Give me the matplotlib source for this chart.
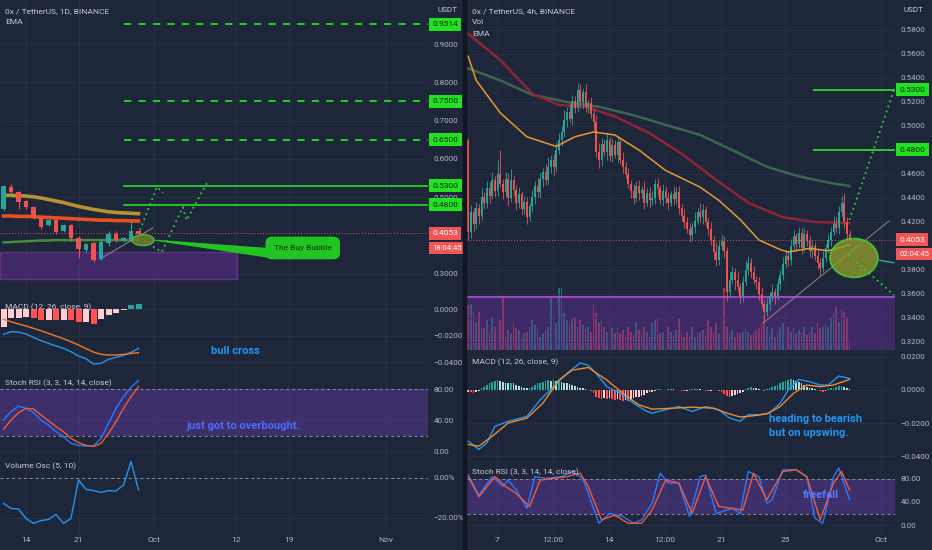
import numpy as np
import matplotlib
matplotlib.use("Agg")
import matplotlib.pyplot as plt
from matplotlib.patches import Ellipse, Rectangle, Polygon

plt.rcParams['font.family'] = ['Roboto', 'DejaVu Sans']

W, H = 932, 550
BG = '#1e2639'
GRID = '#283149'
TXT = '#b4b8c3'
UP = '#26a69a'
DN = '#ef5350'
LIME = '#22e022'
PURPLE = '#6a3fb5'

# ---------------- left chart: 0x/USDT 1D ----------------
l_days = list(range(11, 30))          # day of September
l_open = [0.469, 0.527, 0.513, 0.490, 0.474, 0.445, 0.427, 0.440, 0.412, 0.427,
          0.393, 0.362, 0.380, 0.339, 0.380, 0.404, 0.386, 0.391, 0.412]
l_close = [0.529, 0.513, 0.487, 0.474, 0.448, 0.422, 0.440, 0.409, 0.427, 0.393,
           0.365, 0.378, 0.336, 0.383, 0.404, 0.388, 0.393, 0.412, 0.405]
l_high = [0.532, 0.534, 0.515, 0.492, 0.476, 0.447, 0.442, 0.442, 0.430, 0.429,
          0.398, 0.381, 0.382, 0.390, 0.412, 0.412, 0.397, 0.435, 0.414]
l_low = [0.465, 0.510, 0.469, 0.470, 0.443, 0.418, 0.425, 0.404, 0.410, 0.385,
         0.341, 0.358, 0.331, 0.336, 0.372, 0.382, 0.384, 0.389, 0.403]
l_ema_yel = [0.505, 0.505, 0.504, 0.503, 0.501, 0.498, 0.494, 0.490, 0.486, 0.481,
             0.476, 0.472, 0.468, 0.465, 0.462, 0.460, 0.459, 0.458, 0.457]
l_ema_org = [0.451, 0.451, 0.450, 0.450, 0.449, 0.448, 0.447, 0.446, 0.445, 0.444,
             0.443, 0.442, 0.441, 0.440, 0.440, 0.439, 0.439, 0.438, 0.438]
l_ema_grn = [0.382, 0.383, 0.384, 0.385, 0.386, 0.387, 0.387, 0.388, 0.388, 0.388,
             0.388, 0.388, 0.388, 0.388, 0.388, 0.388, 0.388, 0.388, 0.389]
l_hist = [-0.0133, -0.0070, -0.0070, -0.0058, -0.0070, -0.0083, -0.0082, -0.0086, -0.0080, -0.0085,
          -0.0101, -0.0099, -0.0113, -0.0078, -0.0045, -0.0028, -0.0008, 0.0030, 0.0038]
l_macd = [-0.0191, -0.0171, -0.0174, -0.0189, -0.0214, -0.0239, -0.0259, -0.0279, -0.0297, -0.0322,
          -0.0355, -0.0375, -0.0415, -0.0410, -0.0380, -0.0365, -0.0350, -0.0327, -0.0297]
l_signal = [-0.0078, -0.0096, -0.0113, -0.0128, -0.0146, -0.0164, -0.0184, -0.0204, -0.0224, -0.0247,
            -0.0272, -0.0299, -0.0325, -0.0342, -0.0347, -0.0347, -0.0342, -0.0335, -0.0330]
l_k = [40.0, 50.8, 58.1, 55.1, 49.5, 40.0, 33.5, 24.9, 18.5, 9.9,
       7.3, 6.5, 6.5, 16.3, 35.7, 55.1, 70.1, 82.2, 90.8]
l_d = [28.0, 40.0, 49.5, 55.1, 54.2, 46.5, 39.1, 31.4, 24.9, 16.3,
       10.8, 7.3, 6.0, 9.9, 22.8, 37.8, 55.1, 70.1, 83.0]
l_vosc = [-12.7, -15.2, -15.5, -20.2, -22.7, -21.3, -20.7, -18.2, -22.7, -20.2,
          -1.0, -5.7, -6.3, -7.2, -6.3, -6.5, -3.5, 8.2, -6.0]

l_dash_targets = [0.9514, 0.75, 0.65]
l_targets = [0.53, 0.48]
last_price = 0.4053
l_zone = (0.286, 0.357)
# projection drawings (day, price)
l_path_a_x = [29.2, 31.47, 32.27]
l_path_a_y = [0.414, 0.527, 0.511]
l_path_b_x = [29.7, 32.1, 34.9, 35.4, 38.1]
l_path_b_y = [0.386, 0.357, 0.474, 0.440, 0.537]
l_trend_x = [23.87, 30.93]
l_trend_y = [0.339, 0.420]

l_xticks = [14, 21, 31, 42, 49, 62]
l_xlabels = ['14', '21', 'Oct', '12', '19', 'Nov']

# ---------------- right chart: 0x/USDT 4h ----------------
R_T0 = 5.2             # day of first 4h candle
R_FIRST_OPEN = 0.488
r_close = [0.412, 0.428, 0.418, 0.432, 0.425, 0.441, 0.436, 0.448, 0.442, 0.455,
           0.446, 0.460, 0.452, 0.445, 0.456, 0.440, 0.455, 0.447, 0.436, 0.443,
           0.431, 0.437, 0.424, 0.433, 0.441, 0.450, 0.445, 0.456, 0.462, 0.455,
           0.466, 0.472, 0.466, 0.480, 0.488, 0.495, 0.505, 0.512, 0.506, 0.521,
           0.515, 0.530, 0.520, 0.528, 0.516, 0.519, 0.510, 0.503, 0.478, 0.472,
           0.485, 0.478, 0.488, 0.475, 0.484, 0.476, 0.487, 0.472, 0.466, 0.460,
           0.452, 0.446, 0.440, 0.450, 0.444, 0.447, 0.436, 0.444, 0.438, 0.440,
           0.452, 0.448, 0.438, 0.446, 0.440, 0.436, 0.443, 0.439, 0.445, 0.432,
           0.425, 0.420, 0.414, 0.409, 0.416, 0.421, 0.428, 0.424, 0.430, 0.420,
           0.414, 0.405, 0.395, 0.388, 0.400, 0.404, 0.396, 0.362, 0.372, 0.378,
           0.372, 0.366, 0.358, 0.370, 0.380, 0.386, 0.378, 0.372, 0.370, 0.360,
           0.352, 0.345, 0.352, 0.358, 0.362, 0.358, 0.368, 0.376, 0.385, 0.392,
           0.388, 0.400, 0.408, 0.402, 0.411, 0.398, 0.410, 0.404, 0.396, 0.400,
           0.392, 0.386, 0.382, 0.390, 0.398, 0.405, 0.412, 0.418, 0.415, 0.428,
           0.436, 0.420, 0.410, 0.405]
# wick lengths in thousandths
r_wick_up = [2, 6, 4, 5, 3, 8, 4, 6, 5, 7, 3, 12, 20, 4, 6, 5, 9, 3, 4, 6,
             3, 5, 4, 3, 6, 4, 7, 5, 3, 6, 8, 4, 5, 7, 6, 5, 8, 4, 6, 5,
             4, 6, 5, 4, 7, 3, 5, 4, 6, 8, 5, 4, 7, 3, 6, 4, 5, 3, 6, 4,
             5, 3, 6, 4, 5, 3, 7, 4, 5, 6, 4, 5, 3, 6, 4, 5, 3, 7, 4, 5,
             3, 6, 4, 5, 3, 7, 4, 8, 5, 3, 4, 6, 3, 8, 4, 5, 4, 3, 6, 5,
             4, 7, 3, 5, 8, 6, 4, 5, 3, 4, 6, 3, 5, 4, 6, 3, 5, 4, 6, 5,
             4, 6, 5, 3, 5, 4, 6, 3, 5, 4, 3, 5, 4, 6, 4, 5, 4, 7, 6, 5,
             6, 8, 4, 3]
r_wick_dn = [7, 5, 6, 4, 7, 3, 5, 4, 6, 3, 5, 4, 3, 6, 4, 7, 3, 5, 6, 4,
             5, 4, 6, 3, 5, 6, 4, 5, 7, 4, 3, 5, 8, 4, 3, 5, 4, 6, 3, 5,
             4, 3, 5, 6, 4, 5, 3, 6, 4, 7, 5, 3, 6, 4, 5, 3, 6, 4, 5, 3,
             4, 6, 5, 3, 6, 4, 5, 3, 6, 4, 5, 6, 3, 5, 4, 6, 3, 5, 4, 5,
             4, 5, 3, 6, 4, 5, 3, 4, 6, 3, 5, 4, 6, 5, 4, 3, 6, 8, 5, 4,
             9, 4, 6, 5, 3, 4, 5, 4, 6, 5, 4, 7, 3, 5, 4, 6, 3, 5, 4, 3,
             5, 4, 3, 6, 4, 5, 3, 4, 5, 6, 4, 5, 7, 4, 3, 4, 5, 3, 4, 5,
             3, 5, 4, 3]
r_volume = [45, 46, 38, 27, 38, 23, 22, 30, 18, 33,
            23, 37, 30, 52, 13, 20, 17, 27, 22, 20,
            12, 17, 18, 23, 30, 25, 23, 13, 17, 20,
            23, 52, 23, 27, 62, 62, 37, 30, 27, 32,
            33, 23, 30, 25, 22, 23, 18, 45, 37, 27,
            30, 23, 18, 27, 22, 17, 23, 17, 20, 13,
            23, 18, 15, 28, 20, 17, 23, 18, 13, 27,
            30, 32, 17, 18, 13, 23, 18, 15, 20, 32,
            17, 13, 18, 15, 23, 13, 17, 18, 20, 15,
            30, 23, 18, 27, 17, 50, 62, 23, 17, 20,
            13, 18, 17, 18, 23, 18, 15, 17, 20, 22,
            27, 33, 23, 17, 22, 13, 18, 23, 27, 32,
            23, 18, 23, 17, 20, 17, 23, 15, 18, 23,
            17, 27, 22, 23, 25, 23, 33, 37, 43, 28,
            40, 38, 33, 10]
r_ema_org_idx = [0, 3, 12, 22, 33, 40, 47, 55, 64, 74, 87, 94, 102, 109, 117, 120, 128, 135, 143]
r_ema_org = [0.558, 0.538, 0.511, 0.491, 0.483, 0.491, 0.495, 0.4925, 0.480, 0.463,
             0.449, 0.438, 0.422, 0.405, 0.397, 0.395, 0.398, 0.396, 0.401]
r_ema_red_idx = [0, 12, 24, 34, 44, 55, 68, 80, 93, 105, 118, 130, 143]
r_ema_red = [0.577, 0.555, 0.527, 0.5175, 0.516, 0.508, 0.494, 0.477, 0.455, 0.436, 0.424, 0.420, 0.419]
r_ema_grn_idx = [0, 12, 24, 37, 49, 62, 74, 87, 99, 112, 124, 137, 143]
r_ema_grn = [0.548, 0.538, 0.526, 0.520, 0.516, 0.509, 0.501, 0.4925, 0.480, 0.466, 0.458, 0.452, 0.450]

r_hist = [-0.001, -0.0015, -0.002, -0.0015, -0.0005,
          0.001, 0.002, 0.003, 0.004, 0.005, 0.0055, 0.006, 0.0055,
          0.005, 0.0045, 0.004, 0.0045, 0.004, 0.003, 0.0025, 0.002, 0.0015, 0.001,
          0.0015, 0.002, 0.003, 0.004, 0.0045, 0.005, 0.0055, 0.006, 0.0055, 0.006, 0.0055,
          0.0055, 0.005, 0.0045, 0.004, 0.0035, 0.003, 0.0025, 0.002, 0.0015, 0.001, 0.0005, 0.0002, -0.0005,
          -0.002, -0.004, -0.005, -0.0055, -0.005, -0.0055, -0.005, -0.0055, -0.006, -0.0055, -0.006, -0.0065,
          -0.006, -0.0065, -0.006, -0.005, -0.0045, -0.004, -0.0035, -0.003, -0.002, -0.0015, -0.001, -0.0005,
          0.0003, 0.0005, 0.0001, -0.0003, 0.0004, 0.0008, 0.0005, 0.0002, -0.0003, -0.0006, -0.0008, -0.0005,
          0.0003, 0.0006, 0.0008, 0.0005, 0.0003, -0.0002, -0.0006, -0.0008, -0.0005, -0.0003, 0.0002, -0.0004,
          -0.001, -0.0025, -0.0035, -0.004, -0.0035, -0.003, -0.0025, -0.002, -0.001, 0.0005,
          0.0015, 0.002, 0.0015, 0.001, 0.0005, 0.0001, -0.0005, 0.0005,
          0.001, 0.002, 0.0025, 0.003, 0.004, 0.005, 0.0055, 0.006, 0.0065, 0.006, 0.0055, 0.005, 0.004, 0.003, 0.002,
          0.0015, 0.001, 0.0005, 0.0001, -0.0005, -0.001, -0.0005, 0.0005,
          0.001, 0.0015, 0.002, 0.0025, 0.0025, 0.002, 0.0012, 0.0006]
r_macd_idx = [0, 4, 7, 10, 15, 22, 27, 32, 37, 42, 45, 48, 52, 57, 62, 67, 69, 74, 79, 84,
              89, 94, 98, 102, 105, 109, 113, 117, 120, 124, 128, 132, 135, 139, 143]
r_macd = [-0.031, -0.036, -0.032, -0.022, -0.019, -0.016, -0.006, 0.002, 0.010, 0.0164,
          0.015, 0.010, 0.002, -0.002, -0.008, -0.013, -0.014, -0.012, -0.010, -0.013,
          -0.010, -0.012, -0.017, -0.019, -0.015, -0.015, -0.014, -0.008, 0.000, 0.0064,
          0.005, 0.003, 0.003, 0.0084, 0.007]
r_sig_idx = [0, 4, 9, 15, 22, 28, 34, 39, 45, 52, 58, 64, 69, 77, 84, 92, 97, 102, 107, 112,
             117, 122, 127, 132, 137, 143]
r_sig = [-0.033, -0.034, -0.028, -0.020, -0.017, -0.008, 0.006, 0.012, 0.0136, 0.006,
         -0.002, -0.009, -0.0116, -0.011, -0.0104, -0.011, -0.014, -0.0164, -0.0156, -0.0144,
         -0.010, -0.002, 0.003, 0.002, 0.003, 0.0064]
r_k_idx = [0, 4, 9, 13, 15, 18, 22, 25, 29, 35, 39, 43, 49, 53, 58, 62, 65, 69, 72, 75,
           79, 83, 87, 89, 93, 97, 99, 102, 105, 109, 112, 114, 118, 123, 127, 130, 133, 137, 139, 143]
r_k = [87, 52, 84, 67, 78, 61, 29, 84, 81, 84, 93, 81, 3, 20, 15, 3, 9, 38, 90, 73,
       73, 15, 84, 87, 20, 26, 29, 20, 93, 84, 38, 44, 96, 96, 84, 12, 3, 84, 99, 44]
r_d_idx = [0, 4, 10, 14, 18, 23, 27, 32, 37, 42, 45, 50, 55, 60, 65, 69, 74, 79, 84, 89,
           94, 99, 103, 107, 112, 118, 123, 127, 132, 137, 140, 143]
r_d = [84, 49, 84, 67, 55, 32, 78, 81, 84, 90, 67, 9, 17, 3, 3, 26, 78, 73, 20, 84,
       32, 29, 26, 90, 44, 93, 96, 84, 9, 73, 93, 61]

r_targets = [0.53, 0.48]
r_zone_top = 0.3575
r_up_x = [29.03, 31.81]
r_up_y = [0.4217, 0.53]
r_dn_x = [28.97, 31.81]
r_dn_y = [0.3925, 0.359]
r_trend_x = [23.63, 31.5]
r_trend_y = [0.3358, 0.4208]

r_xticks = [7, 10.5, 14, 17.5, 21, 25, 31]
r_xlabels = ['7', '12:00', '14', '12:00', '21', '25', 'Oct']

# ---------------- figure ----------------
fig = plt.figure(figsize=(W / 100, H / 100), dpi=100, facecolor=BG)


def pane(x0, y0, x1, y1, xlim, ylim, grid=True):
    ax = fig.add_axes([x0 / W, 1 - y1 / H, (x1 - x0) / W, (y1 - y0) / H])
    ax.set_facecolor('none')
    ax.set_xlim(*xlim)
    ax.set_ylim(*ylim)
    for s in ax.spines.values():
        s.set_visible(False)
    ax.yaxis.tick_right()
    ax.tick_params(axis='both', colors=TXT, labelsize=5.8, length=0, pad=4)
    if grid:
        ax.grid(True, color=GRID, lw=0.6)
    ax.set_axisbelow(True)
    return ax


def ftext(x, y, s, **kw):
    kw.setdefault('va', 'center')
    kw.setdefault('color', '#c8ccd6')
    kw.setdefault('fontsize', 6)
    fig.text(x / W, 1 - y / H, s, **kw)


def yticks(ax, vals, fmt):
    ax.set_yticks(vals)
    ax.set_yticklabels([fmt(v) for v in vals])


def xticks(ax, vals, labels, show):
    ax.set_xticks(vals)
    if show:
        ax.set_xticklabels(labels)
        ax.tick_params(axis='x', pad=3, labelsize=6)
    else:
        ax.tick_params(axis='x', labelbottom=False)


def tag(ax, y, s, fc, tc, dy=0, size=6):
    ax.annotate(s, xy=(1, y), xycoords=('axes fraction', 'data'), xytext=(3, dy),
                textcoords='offset points', ha='left', va='center', fontsize=size,
                color=tc, annotation_clip=False, zorder=20,
                bbox=dict(boxstyle='square,pad=0.42', fc=fc, ec='none'))


def candles(ax, x, o, c, h, l, width, lw):
    o, c = np.asarray(o), np.asarray(c)
    col = [UP if cc >= oo else DN for oo, cc in zip(o, c)]
    ax.vlines(x, l, h, colors=col, lw=lw, zorder=3)
    body = np.where(np.abs(c - o) < 0.0008, 0.0008, c - o)
    ax.bar(x, body, bottom=o, width=width, color=col, zorder=4, lw=0)


def hist_colors(vals):
    out = []
    for i, v in enumerate(vals):
        p = vals[i - 1] if i else v
        if v >= 0:
            out.append('#26a69a' if v >= p else '#b2dfdb')
        else:
            out.append('#ff5252' if v < p else '#ffcdd2')
    return out


def pct(v):
    return f'{v:.2f}%'.replace('-', '\u2212')


def dec4(v):
    return f'{v:.4f}'.replace('-', '\u2212')


# ===== left chart =====
LX = (10.53, 67.6)
lp = pane(0, 0, 428, 298, LX, (0.2368, 1.015))
yticks(lp, [0.3, 0.5, 0.6, 0.7, 0.8, 0.9], dec4)
xticks(lp, l_xticks, l_xlabels, False)
lp.add_patch(Rectangle((LX[0], l_zone[0]), 42.13 - LX[0], l_zone[1] - l_zone[0],
                       fc='#6a2ea0', alpha=0.45, ec='#a040c8', lw=1, zorder=1))
lp.plot(l_days, l_ema_yel, color='#c8a030', lw=2.6, alpha=0.9, zorder=2)
lp.plot(l_days, l_ema_org, color='#f4511e', lw=2.6, alpha=0.95, zorder=2)
lp.plot(l_days, l_ema_grn, color='#4a8a3c', lw=1.8, zorder=2)
candles(lp, l_days, l_open, l_close, l_high, l_low, 0.66, 0.8)
lp.axhline(last_price, color='#e05561', lw=0.7, ls=(0, (1, 2)), zorder=2)
for t in l_dash_targets:
    lp.plot([27.07, LX[1]], [t, t], color=LIME, lw=1.3, ls=(0, (4, 4)), zorder=3)
    tag(lp, t, f'{t:.4f}', LIME, '#0b2a0b')
for t in l_targets:
    lp.plot([27.07, LX[1]], [t, t], color=LIME, lw=1.2, zorder=3)
    tag(lp, t, f'{t:.4f}', LIME, '#0b2a0b')
lp.plot(l_trend_x, l_trend_y, color='#9a9aa0', lw=0.6, zorder=3)
lp.plot(l_path_a_x, l_path_a_y, color='#2ecc40', lw=1.3, ls=(0, (1, 2)), zorder=5)
lp.plot(l_path_b_x, l_path_b_y, color='#2ecc40', lw=1.3, ls=(0, (1, 2)), zorder=5)
lp.add_patch(Polygon([(31.0, 0.3895), (31.0, 0.3868), (46.6, 0.341), (46.6, 0.367)],
                     closed=True, fc='#21c421', ec='none', zorder=5))
lp.add_patch(Ellipse((29.6, 0.388), 2.93, 0.0287, fc='#6f7f2c', ec='#5fbf3f',
                     lw=1, alpha=0.85, zorder=6))
lp.text(50.9, 0.3674, 'The Buy Bubble', fontsize=6, color='#0d3a0d', ha='center',
        va='center', zorder=7,
        bbox=dict(boxstyle='round,pad=1.0,rounding_size=0.8', fc='#21c421', ec='none'))
tag(lp, last_price, '0.4053', '#f05656', 'white')
tag(lp, last_price, '18:04:45', '#f05656', 'white', dy=-10.5, size=5.6)

lm = pane(0, 298, 428, 377, LX, (-0.0513, 0.0083))
yticks(lm, [0.0, -0.02, -0.04], dec4)
xticks(lm, l_xticks, l_xlabels, False)
lm.bar(l_days, l_hist, width=0.8, color=hist_colors(l_hist), zorder=3, lw=0)
lm.plot(l_days, l_macd, color='#2196f3', lw=1.0, zorder=4)
lm.plot(l_days, l_signal, color='#f07a2a', lw=1.0, zorder=4)

ls_ = pane(0, 377, 428, 459, LX, (-10.3, 95.5))
yticks(ls_, [0, 40, 80], lambda v: f'{v:.2f}')
xticks(ls_, l_xticks, l_xlabels, False)
ls_.axhspan(20, 80, color=PURPLE, alpha=0.4, lw=0, zorder=1)
for lvl in (20, 80):
    ls_.axhline(lvl, color='#8a8fa3', lw=0.7, ls=(0, (3, 3)), zorder=2)
ls_.plot(l_days, l_k, color='#2979ff', lw=1.0, zorder=4)
ls_.plot(l_days, l_d, color='#f05a3a', lw=1.0, zorder=4)

lv = pane(0, 459, 428, 533, LX, (-27.5, 9.5))
yticks(lv, [0, -20], pct)
xticks(lv, l_xticks, l_xlabels, True)
lv.axhline(0, color='#8a8fa3', lw=0.7, ls=(0, (3, 3)), zorder=2)
lv.plot(l_days, l_vosc, color='#2196f3', lw=1.0, zorder=4)

# ===== right chart =====
RX = (5.125, 31.875)
n = len(r_close)
rx = R_T0 + np.arange(n) / 6
r_close_a = np.asarray(r_close)
r_open = np.r_[R_FIRST_OPEN, r_close_a[:-1]]
r_high = np.maximum(r_open, r_close_a) + np.asarray(r_wick_up) / 1000
r_low = np.minimum(r_open, r_close_a) - np.asarray(r_wick_dn) / 1000

rv = pane(467, 0, 895, 350, RX, (0, 350), grid=False)
rv.set_yticks([])
rv.set_xticks([])
vx = R_T0 + np.arange(len(r_volume)) / 6
vcol = [UP if c >= o else DN for o, c in zip(r_open, r_close_a)]
rv.bar(vx, r_volume, width=0.12, color=vcol[:len(r_volume)], alpha=0.6, lw=0)

rp = pane(467, 0, 895, 350, RX, (0.3133, 0.605))
yticks(rp, [0.32, 0.34, 0.36, 0.38, 0.42, 0.44, 0.46, 0.50, 0.52, 0.54, 0.56, 0.58], dec4)
xticks(rp, r_xticks, r_xlabels, False)
rp.axhspan(0.30, r_zone_top, color='#6a2ea0', alpha=0.42, lw=0, zorder=1)
rp.axhline(r_zone_top, color='#b44fe0', lw=1.2, zorder=2)
rp.plot(R_T0 + np.asarray(r_ema_grn_idx) / 6, r_ema_grn, color='#3d6652', lw=1.8, zorder=2)
rp.plot(R_T0 + np.asarray(r_ema_red_idx) / 6, r_ema_red, color='#8e2436', lw=1.8, zorder=2)
rp.plot(R_T0 + np.asarray(r_ema_org_idx) / 6, r_ema_org, color='#e89a2e', lw=1.1, zorder=5)
candles(rp, rx, r_open, r_close_a, r_high, r_low, 0.12, 0.6)
rp.axhline(last_price, color='#e05561', lw=0.7, ls=(0, (1, 2)), zorder=2)
for t in r_targets:
    rp.plot([26.8, RX[1]], [t, t], color=LIME, lw=1.3, zorder=3)
    tag(rp, t, f'{t:.4f}', LIME, '#0b2a0b')
rp.plot(r_trend_x, r_trend_y, color='#a09488', lw=0.6, zorder=3)
rp.add_patch(Ellipse((29.31, 0.390), 3.0, 0.0325, fc='#8d9a2a', ec='#3ddc3d',
                     lw=1.2, alpha=0.8, zorder=6))
rp.plot(r_up_x, r_up_y, color='#2ecc40', lw=1.3, ls=(0, (1, 2)), zorder=7)
rp.plot(r_dn_x, r_dn_y, color='#2ecc40', lw=1.3, ls=(0, (1, 2)), zorder=7)
rp.plot([30.9, 31.8], [0.388, 0.386], color='#3aa39a', lw=1.0, zorder=7)
tag(rp, last_price, '0.4053', '#f05656', 'white')
tag(rp, last_price, '02:04:45', '#f05656', 'white', dy=-10.5, size=5.6)

rm = pane(467, 350, 895, 463, RX, (-0.0442, 0.0242))
yticks(rm, [0.02, 0.0, -0.02, -0.04], dec4)
xticks(rm, r_xticks, r_xlabels, False)
hx = R_T0 + np.arange(len(r_hist)) / 6
rm.bar(hx, r_hist, width=0.12, color=hist_colors(r_hist), lw=0, zorder=3)
rm.plot(R_T0 + np.asarray(r_macd_idx) / 6, r_macd, color='#2196f3', lw=1.0, zorder=4)
rm.plot(R_T0 + np.asarray(r_sig_idx) / 6, r_sig, color='#f08a2a', lw=1.0, zorder=4)

rs = pane(467, 463, 895, 533, RX, (-13.9, 107.8))
yticks(rs, [0, 40, 80], lambda v: f'{v:.2f}')
xticks(rs, r_xticks, r_xlabels, True)
rs.axhspan(20, 80, color=PURPLE, alpha=0.4, lw=0, zorder=1)
for lvl in (20, 80):
    rs.axhline(lvl, color='#8a8fa3', lw=0.7, ls=(0, (3, 3)), zorder=2)
rs.plot(R_T0 + np.asarray(r_k_idx) / 6, r_k, color='#2979ff', lw=1.0, zorder=4)
rs.plot(R_T0 + np.asarray(r_d_idx) / 6, r_d, color='#f05a3a', lw=1.0, zorder=4)

# chart divider
fig.patches.append(Rectangle((463 / W, 0), 3 / W, 1, transform=fig.transFigure,
                             color='#121622', zorder=30))

# legends / titles
ftext(5, 11, '0x / TetherUS, 1D, BINANCE')
ftext(5, 22, 'EMA')
ftext(472, 11, '0x / TetherUS, 4h, BINANCE')
ftext(472, 22, 'Vol')
ftext(472, 34, 'EMA')
ftext(437, 10, 'USDT', fontsize=5.8)
ftext(903, 10, 'USDT', fontsize=5.8)
ftext(5, 307, 'MACD (12, 26, close, 9)')
ftext(5, 383, 'Stoch RSI (3, 3, 14, 14, close)')
ftext(5, 466, 'Volume Osc (5, 10)')
ftext(472, 362, 'MACD (12, 26, close, 9)')
ftext(472, 472, 'Stoch RSI (3, 3, 14, 14, close)')

# notes
ftext(235, 351, 'bull cross', ha='center', color='#2196f3', fontsize=8, fontweight='bold')
ftext(243, 426, 'just got to overbought.', ha='center', color='#4d6bfe', fontsize=8,
      fontweight='bold')
ftext(769, 419, 'heading to bearish', color='#2196f3', fontsize=8, fontweight='bold')
ftext(769, 433, 'but on upswing.', color='#2196f3', fontsize=8, fontweight='bold')
ftext(803, 495, 'freefall', color='#5a7cff', fontsize=8, fontweight='bold')

fig.savefig('out.png', dpi=100, facecolor=BG)
